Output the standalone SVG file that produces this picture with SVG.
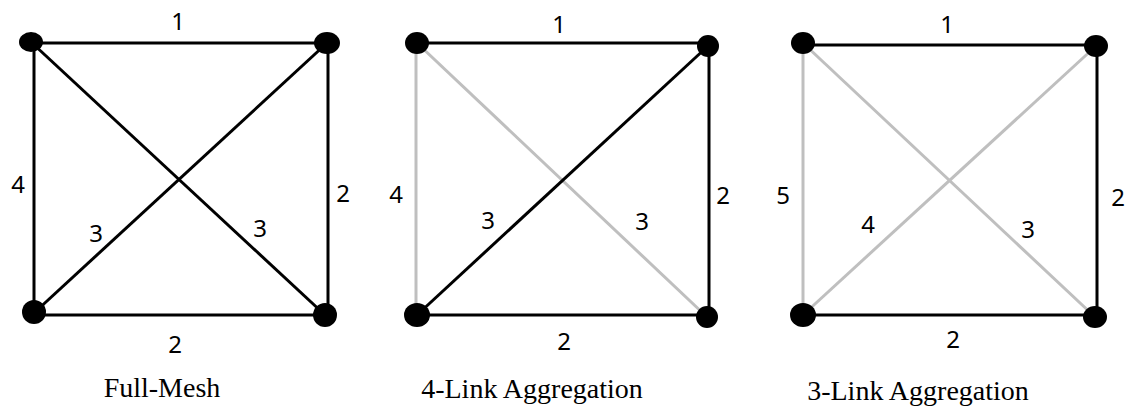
<svg xmlns="http://www.w3.org/2000/svg" width="1127" height="407" viewBox="0 0 1127 407">
<style>
.k{stroke:#000;stroke-width:3;fill:none}
.g{stroke:#bfbfbf;stroke-width:3;fill:none}
.n{fill:#000}
.lbl{font-family:"Noto Sans","Open Sans",sans-serif;font-size:24px;fill:#000;text-anchor:middle}
.cap{font-family:"Liberation Serif",serif;font-size:28px;fill:#000;text-anchor:middle}
</style>
<rect width="1127" height="407" fill="#fff"/>
<g id="connectors">
<line class="k" x1="31" y1="43" x2="327" y2="43"/>
<line class="k" x1="34" y1="42" x2="34" y2="313"/>
<line class="k" x1="328" y1="43" x2="328" y2="315"/>
<line class="k" x1="34" y1="315" x2="325" y2="315"/>
<line class="k" x1="31" y1="42" x2="325" y2="315"/>
<line class="k" x1="327" y1="43" x2="34" y2="313"/>
<line class="g" x1="416" y1="43" x2="416" y2="315"/>
<line class="g" x1="417" y1="43" x2="707" y2="317"/>
<line class="k" x1="417" y1="43" x2="708" y2="43"/>
<line class="k" x1="709" y1="46" x2="709" y2="316"/>
<line class="k" x1="417" y1="315" x2="707" y2="315"/>
<line class="k" x1="708" y1="46" x2="417" y2="315"/>
<line class="g" x1="803" y1="43" x2="803" y2="315"/>
<line class="g" x1="803" y1="43" x2="1095" y2="317"/>
<line class="g" x1="1096" y1="46" x2="803" y2="315"/>
<line class="k" x1="803" y1="45" x2="1096" y2="45"/>
<line class="k" x1="1097" y1="46" x2="1097" y2="316"/>
<line class="k" x1="803" y1="315" x2="1095" y2="315"/>
</g>
<g id="labels">
<text class="lbl" x="178" y="30">1</text>
<text class="lbl" x="18" y="193">4</text>
<text class="lbl" x="343" y="202">2</text>
<text class="lbl" x="96" y="242">3</text>
<text class="lbl" x="260" y="237">3</text>
<text class="lbl" x="175" y="353">2</text>
<text class="lbl" x="559" y="33">1</text>
<text class="lbl" x="396" y="203">4</text>
<text class="lbl" x="723" y="204">2</text>
<text class="lbl" x="488" y="229">3</text>
<text class="lbl" x="642" y="230">3</text>
<text class="lbl" x="564" y="350">2</text>
<text class="lbl" x="947" y="33">1</text>
<text class="lbl" x="783" y="204">5</text>
<text class="lbl" x="1118" y="206">2</text>
<text class="lbl" x="868" y="233">4</text>
<text class="lbl" x="1028" y="238">3</text>
<text class="lbl" x="953" y="348">2</text>
</g>
<g id="n1a"><ellipse class="n" cx="31" cy="42" rx="12" ry="10"/></g>
<g id="n1b"><ellipse class="n" cx="327" cy="43" rx="13" ry="11"/></g>
<g id="n1c"><ellipse class="n" cx="34" cy="312" rx="12" ry="12"/></g>
<g id="n1d"><ellipse class="n" cx="325" cy="315" rx="12" ry="12"/></g>
<g id="n2a"><ellipse class="n" cx="417" cy="43" rx="12" ry="11"/></g>
<g id="n2b"><ellipse class="n" cx="708" cy="46" rx="11" ry="11"/></g>
<g id="n2c"><ellipse class="n" cx="417" cy="315" rx="13" ry="12"/></g>
<g id="n2d"><ellipse class="n" cx="707" cy="317" rx="11" ry="11"/></g>
<g id="n3a"><ellipse class="n" cx="803" cy="43" rx="12" ry="11"/></g>
<g id="n3b"><ellipse class="n" cx="1096" cy="46" rx="12" ry="11"/></g>
<g id="n3c"><ellipse class="n" cx="803" cy="315" rx="13" ry="12"/></g>
<g id="n3d"><ellipse class="n" cx="1095" cy="317" rx="12" ry="11"/></g>
<g id="captions">
<text class="cap" x="162" y="397">Full-Mesh</text>
<text class="cap" x="532" y="398">4-Link Aggregation</text>
<text class="cap" x="918" y="400">3-Link Aggregation</text>
</g>
</svg>
